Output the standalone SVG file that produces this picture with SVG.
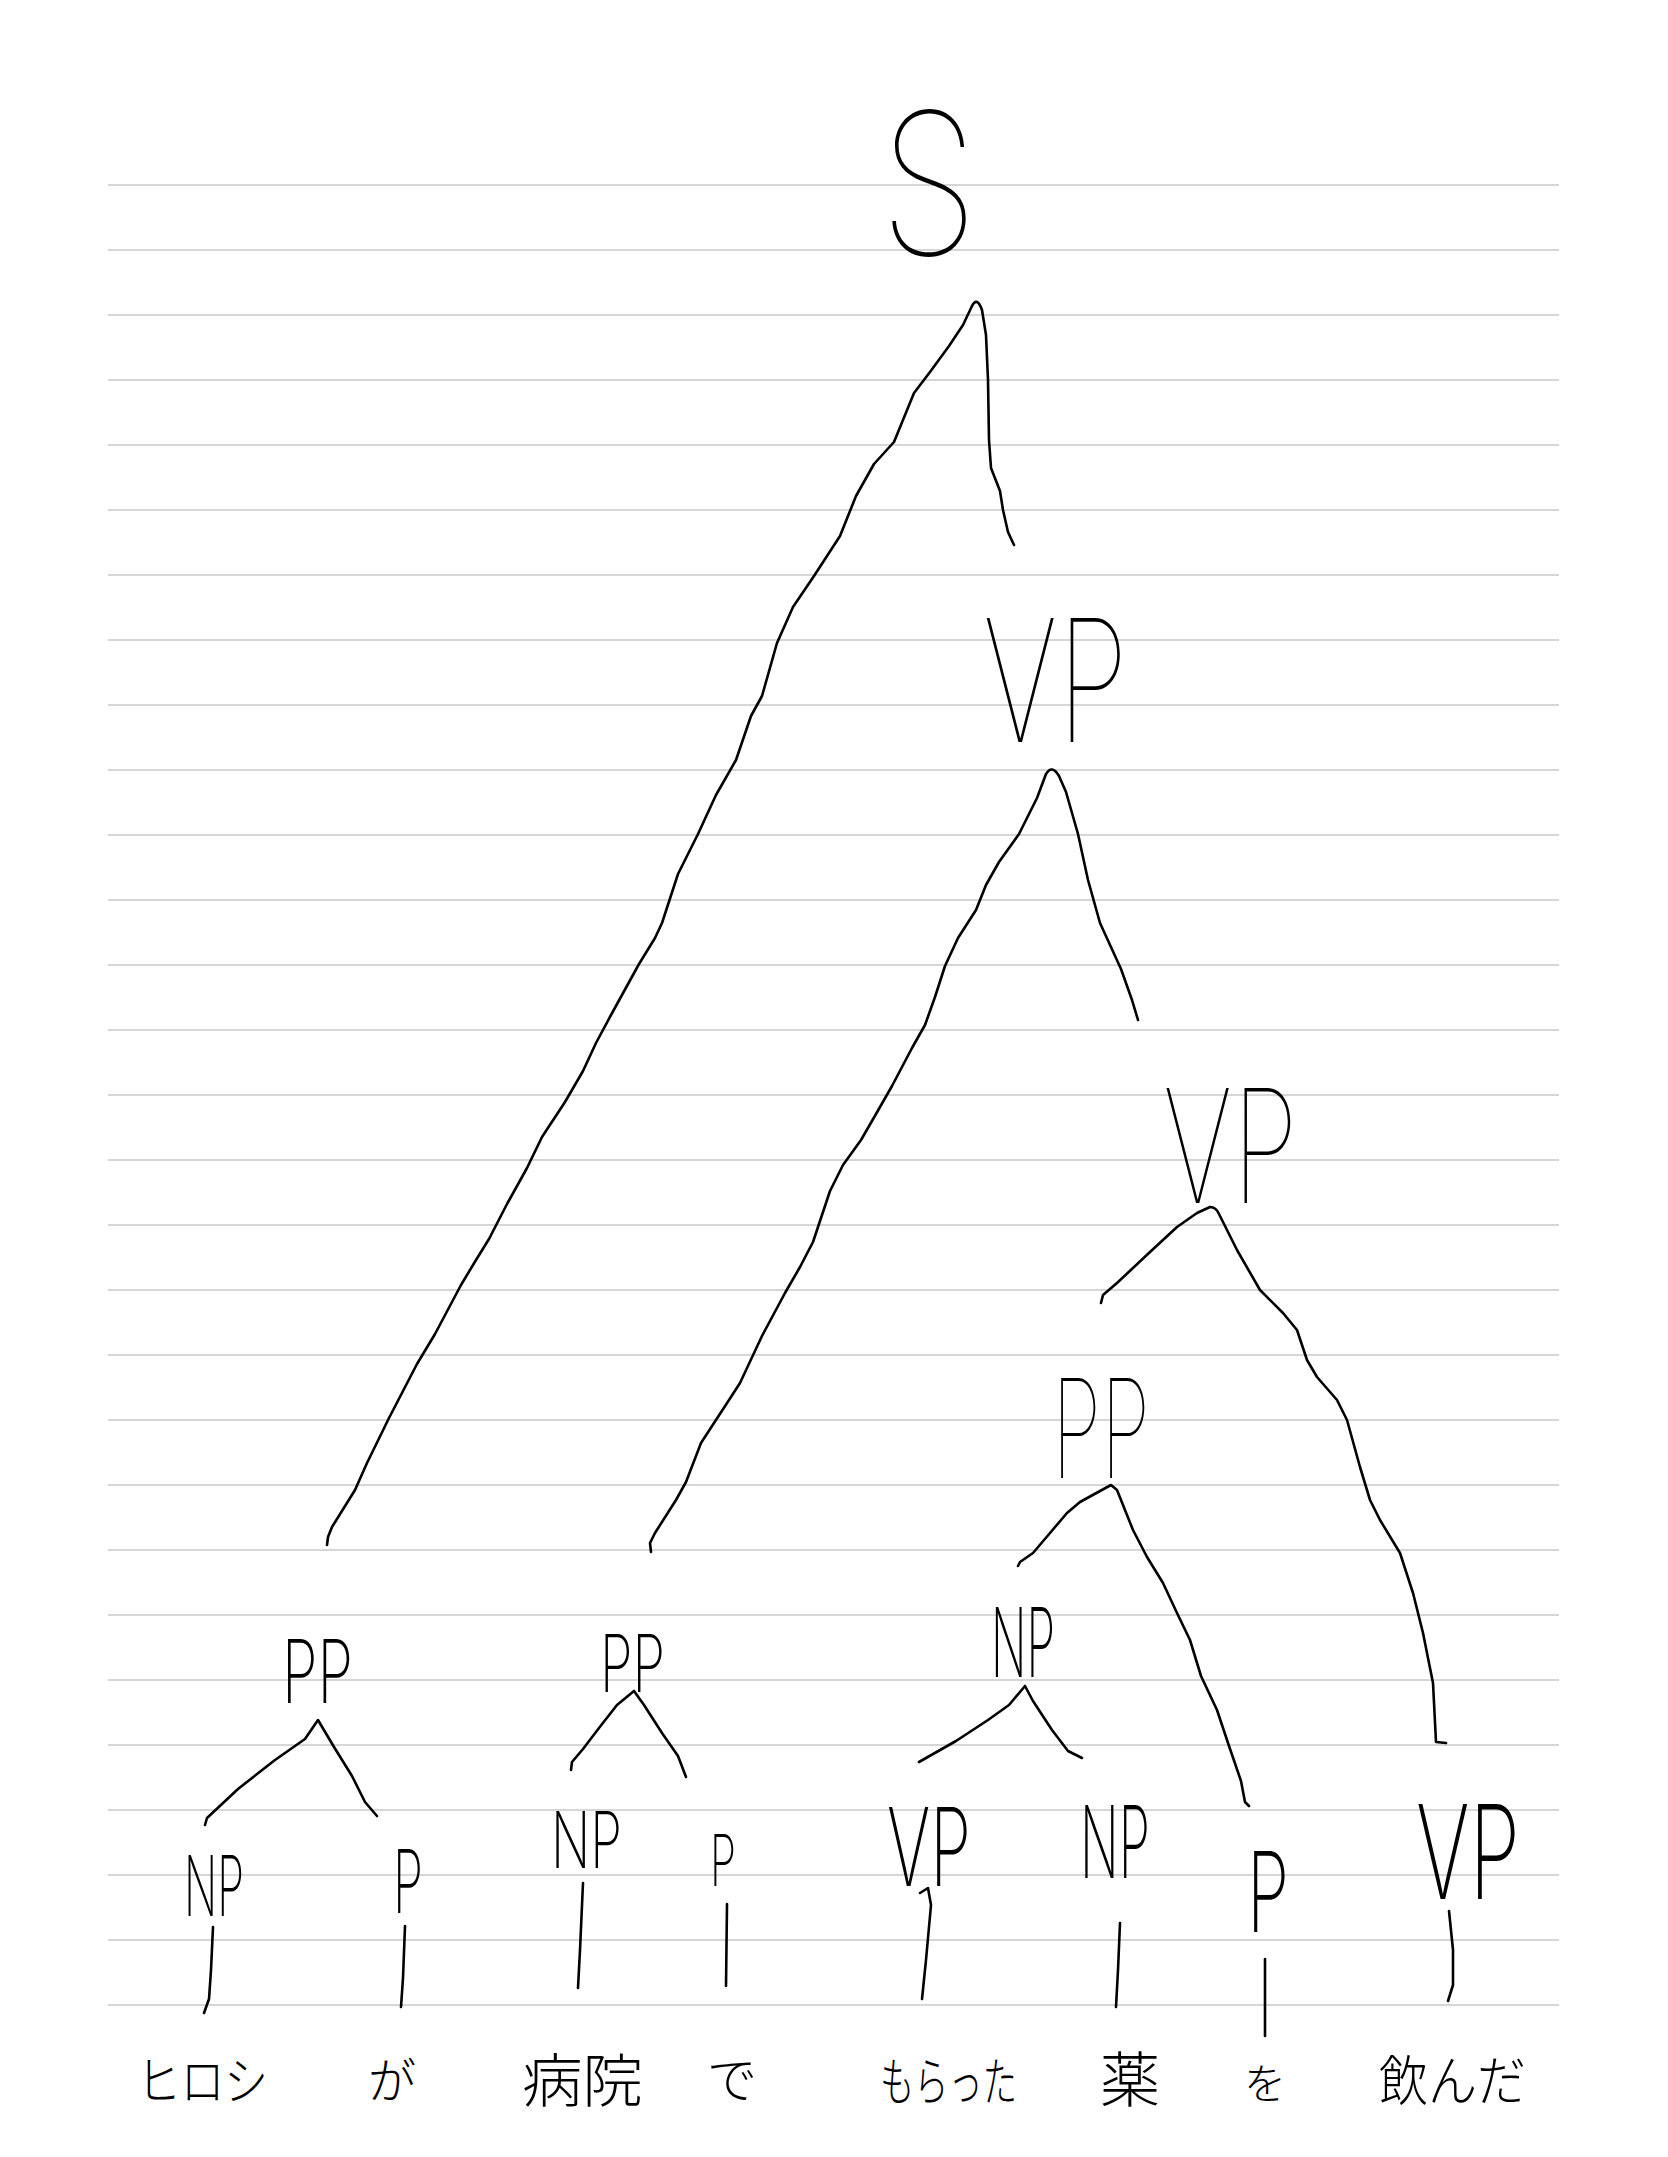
<svg xmlns="http://www.w3.org/2000/svg" width="1668" height="2157" viewBox="0 0 1668 2157">
<defs>
<style>
.rule{stroke:#d6d6d6;stroke-width:2;fill:none}
.ln{stroke:#000;stroke-width:2.6;fill:none;stroke-linecap:round;stroke-linejoin:round}
.lab{font-family:"Inter","Roboto","Noto Sans","Liberation Sans",sans-serif;font-weight:200;fill:#000}
.big{font-weight:100}
.jp{font-family:"Noto Sans CJK JP","Noto Sans CJK SC",sans-serif;font-weight:300;fill:#000}
</style>
</defs>
<rect width="1668" height="2157" fill="#fff"/>
<g id="paper">
<path class="rule" d="M108,185H1559M108,250H1559M108,315H1559M108,380H1559M108,445H1559M108,510H1559M108,575H1559M108,640H1559M108,705H1559M108,770H1559M108,835H1559M108,900H1559M108,965H1559M108,1030H1559M108,1095H1559M108,1160H1559M108,1225H1559M108,1290H1559M108,1355H1559M108,1420H1559M108,1485H1559M108,1550H1559M108,1615H1559M108,1680H1559M108,1745H1559M108,1810H1559M108,1875H1559M108,1940H1559M108,2005H1559"/>
</g>
<g id="connectors">
<path class="ln" d="M1014,545 L1008,532 1003,510 1000,491 991,468 989,440 988,380 986,335 982,310 Q977,296 972,306 L963,325 949,346 930,372 914,393 894,442 874,464 856,496 840,536 814,576 793,607 777,643 762,696 751,716 736,760 716,795 698,834 678,874 662,923 655,938 639,964 611,1015 596,1043 583,1071 565,1102 542,1137 527,1168 507,1204 489,1239 476,1260 461,1285 435,1334 417,1364 389,1418 367,1463 355,1490 332,1527 328,1537 327,1545"/>
<path class="ln" d="M1138,1020 L1132,1000 1121,969 1100,923 1088,880 1078,834 1066,792 1059,776 Q1052,764 1046,774 L1037,798 1019,834 999,862 986,885 976,910 958,938 945,966 935,997 925,1025 912,1048 892,1086 876,1114 861,1140 843,1165 830,1191 813,1242 800,1267 785,1293 762,1336 740,1383 729,1400 714,1423 701,1443 686,1482 676,1500 655,1533 650,1543 651,1552"/>
<path class="ln" d="M1101,1303 L1103,1295 1117,1283 1150,1252 1177,1227 1197,1213 1210,1207 Q1216,1207 1219,1214 L1237,1250 1260,1290 1283,1313 1297,1330 1307,1360 1317,1377 1337,1400 1347,1420 1360,1467 1370,1500 1380,1520 1400,1553 1413,1593 1423,1633 1433,1683 1436,1742 1446,1743"/>
<path class="ln" d="M1018,1566 L1020,1562 1033,1553 1050,1533 1067,1513 1080,1502 1111,1485 1117,1490 1133,1530 1147,1557 1163,1583 1177,1613 1190,1640 1201,1676 1217,1710 1228,1743 1241,1781 1245,1802 1249,1806"/>
<path class="ln" d="M919,1762 L956,1741 988,1720 1009,1705 1025,1686 1033,1701 1052,1730 1068,1751 1082,1758"/>
<path class="ln" d="M205,1825 L207,1818 238,1789 275,1760 305,1739 318,1720 334,1747 352,1776 365,1802 377,1816"/>
<path class="ln" d="M571,1770 L572,1762 583,1749 599,1728 617,1705 634,1691 644,1705 662,1733 678,1756 686,1777"/>
<path class="ln" d="M213,1927 L211,1970 209,1999 204,2013"/>
<path class="ln" d="M405,1926 L403,1978 401,2007"/>
<path class="ln" d="M583,1883 L580,1950 578,1988"/>
<path class="ln" d="M727,1904 L726,1986"/>
<path class="ln" d="M920,1893 L928,1888 931,1905 926,1960 922,1999"/>
<path class="ln" d="M1120,1923 L1118,1970 1116,2007"/>
<path class="ln" d="M1265,1959 L1265,2036"/>
<path class="ln" d="M1449,1911 L1453,1950 1453,1985 1448,2001"/>
</g>
<g id="node-S"><text class="lab big" x="880" y="255" font-size="198" textLength="98" lengthAdjust="spacingAndGlyphs">S</text></g>
<g id="node-VP1"><text class="lab big" x="983" y="742" font-size="170" textLength="145" lengthAdjust="spacingAndGlyphs">VP</text></g>
<g id="node-VP2"><text class="lab big" x="1163" y="1203" font-size="158" textLength="135" lengthAdjust="spacingAndGlyphs">VP</text></g>
<g id="node-PP3"><text class="lab big" x="1052" y="1478" font-size="138" textLength="98" lengthAdjust="spacingAndGlyphs">PP</text></g>
<g id="node-PP1"><text class="lab" x="282" y="1703" font-size="88" textLength="71" lengthAdjust="spacingAndGlyphs">PP</text></g>
<g id="node-PP2"><text class="lab" x="600" y="1692" font-size="80" textLength="65" lengthAdjust="spacingAndGlyphs">PP</text></g>
<g id="node-NP3"><text class="lab" x="991" y="1677" font-size="96" textLength="64" lengthAdjust="spacingAndGlyphs">NP</text></g>
<g id="node-NP1"><text class="lab" x="184" y="1916" font-size="84" textLength="60" lengthAdjust="spacingAndGlyphs">NP</text></g>
<g id="node-P1"><text class="lab" x="393" y="1913" font-size="88" textLength="30" lengthAdjust="spacingAndGlyphs">P</text></g>
<g id="node-NP2"><text class="lab" x="551" y="1868" font-size="78" textLength="71" lengthAdjust="spacingAndGlyphs">NP</text></g>
<g id="node-P2"><text class="lab" x="710" y="1886" font-size="72" textLength="26" lengthAdjust="spacingAndGlyphs">P</text></g>
<g id="node-VP3"><text class="lab" x="887" y="1886" font-size="108" textLength="84" lengthAdjust="spacingAndGlyphs">VP</text></g>
<g id="node-NP4"><text class="lab" x="1080" y="1878" font-size="100" textLength="70" lengthAdjust="spacingAndGlyphs">NP</text></g>
<g id="node-P3"><text class="lab" x="1247" y="1932" font-size="112" textLength="42" lengthAdjust="spacingAndGlyphs">P</text></g>
<g id="node-VP4"><text class="lab" x="1416" y="1899" font-size="130" textLength="104" lengthAdjust="spacingAndGlyphs">VP</text></g>
<g id="leaf-hiroshi"><text class="jp" x="137" y="2100" font-size="52" textLength="131" lengthAdjust="spacingAndGlyphs">ヒロシ</text></g>
<g id="leaf-ga"><text class="jp" x="368" y="2098" font-size="48">が</text></g>
<g id="leaf-byouin"><text class="jp" x="522" y="2102" font-size="58" textLength="121" lengthAdjust="spacingAndGlyphs">病院</text></g>
<g id="leaf-de"><text class="jp" x="707" y="2098" font-size="50">で</text></g>
<g id="leaf-moratta"><text class="jp" x="880" y="2101" font-size="52" textLength="137" lengthAdjust="spacingAndGlyphs">もらった</text></g>
<g id="leaf-kusuri"><text class="jp" x="1100" y="2102" font-size="60">薬</text></g>
<g id="leaf-wo"><text class="jp" x="1244" y="2099" font-size="42">を</text></g>
<g id="leaf-nonda"><text class="jp" x="1379" y="2101" font-size="54" textLength="147" lengthAdjust="spacingAndGlyphs">飲んだ</text></g>
</svg>
